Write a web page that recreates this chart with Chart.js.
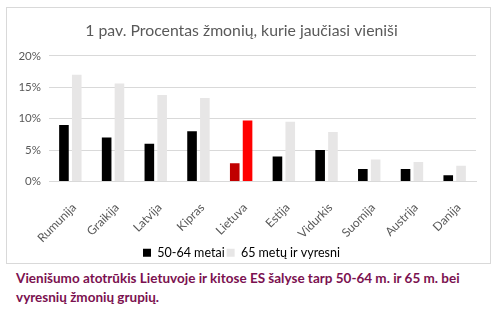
<!DOCTYPE html>
<html><head><meta charset="utf-8">
<script src="https://cdn.jsdelivr.net/npm/chart.js@4"></script>
<style>
html,body{margin:0;padding:0;background:#fff;width:502px;height:318px;overflow:hidden;}
#box{position:absolute;left:6px;top:7px;width:483px;height:255px;border:1px solid #d9d9d9;}
#cap{position:absolute;left:16px;top:269px;width:480px;font-family:Lato,"Open Sans",sans-serif;font-weight:bold;font-size:13.5px;line-height:19px;color:#7b1150;}
</style></head><body>
<div id="box"><canvas id="c" width="483" height="255"></canvas></div>
<div id="cap">Vienišumo atotrūkis Lietuvoje ir kitose ES šalyse tarp 50-64 m. ir 65 m. bei vyresnių žmonių grupių.</div>
<script>
const categories = ["Rumunija","Graikija","Latvija","Kipras","Lietuva","Estija","Vidurkis","Suomija","Austrija","Danija"];
const seriesNames = ["50-64 metai","65 metų ir vyresni"];
const values5064 = [9, 7, 6, 8, 2.9, 4, 5, 2, 2, 1];
const values65 = [17, 15.6, 13.8, 13.3, 9.7, 9.5, 7.9, 3.5, 3.1, 2.5];
const yTicks = [0, 5, 10, 15, 20];
const highlight = "Lietuva";

const col1 = categories.map(c => c === highlight ? "#c00000" : "#000000");
const col2 = categories.map(c => c === highlight ? "#ff0000" : "#e7e6e6");
const legendCols = ["#000000", "#e7e6e6"];

Chart.defaults.font.family = "Lato, 'Open Sans', sans-serif";
Chart.defaults.color = "#595959";

new Chart(document.getElementById("c"), {
  type: "bar",
  data: {
    labels: categories,
    datasets: [
      {label: seriesNames[0], data: values5064, backgroundColor: col1, categoryPercentage: 0.6, barPercentage: 0.75},
      {label: seriesNames[1], data: values65, backgroundColor: col2, categoryPercentage: 0.6, barPercentage: 0.75}
    ]
  },
  options: {
    responsive: false,
    animation: false,
    layout: {padding: {left: 0, right: 14, top: 4, bottom: -6}},
    plugins: {
      title: {display: true, text: "1 pav. Procentas žmonių, kurie jaučiasi vieniši", font: {size: 15.8, weight: "normal"}, color: "#595959", padding: {top: 9, bottom: 16}},
      legend: {
        position: "bottom",
        labels: {
          boxWidth: 8, boxHeight: 8, font: {size: 12.5}, color: "#595959", padding: 2,
          generateLabels: (chart) => chart.data.datasets.map((d, i) => ({text: d.label, fillStyle: legendCols[i], strokeStyle: legendCols[i], lineWidth: 0, datasetIndex: i}))
        }
      },
      tooltip: {enabled: false}
    },
    scales: {
      x: {
        grid: {display: false},
        border: {color: "#d9d9d9"},
        ticks: {minRotation: 45, maxRotation: 45, font: {size: 12}, color: "#595959", padding: 11, labelOffset: 4},
        afterFit: (s) => { s.height = 63; }
      },
      y: {
        min: 0, max: 20,
        afterBuildTicks: (s) => { s.ticks = yTicks.map(v => ({value: v})); },
        grid: {color: "#d9d9d9", drawTicks: false},
        border: {display: false},
        ticks: {callback: v => v + "%", font: {size: 11.5}, color: "#595959", padding: 8},
        afterFit: (s) => { s.width = 42; }
      }
    }
  }
});
</script>
</body></html>
